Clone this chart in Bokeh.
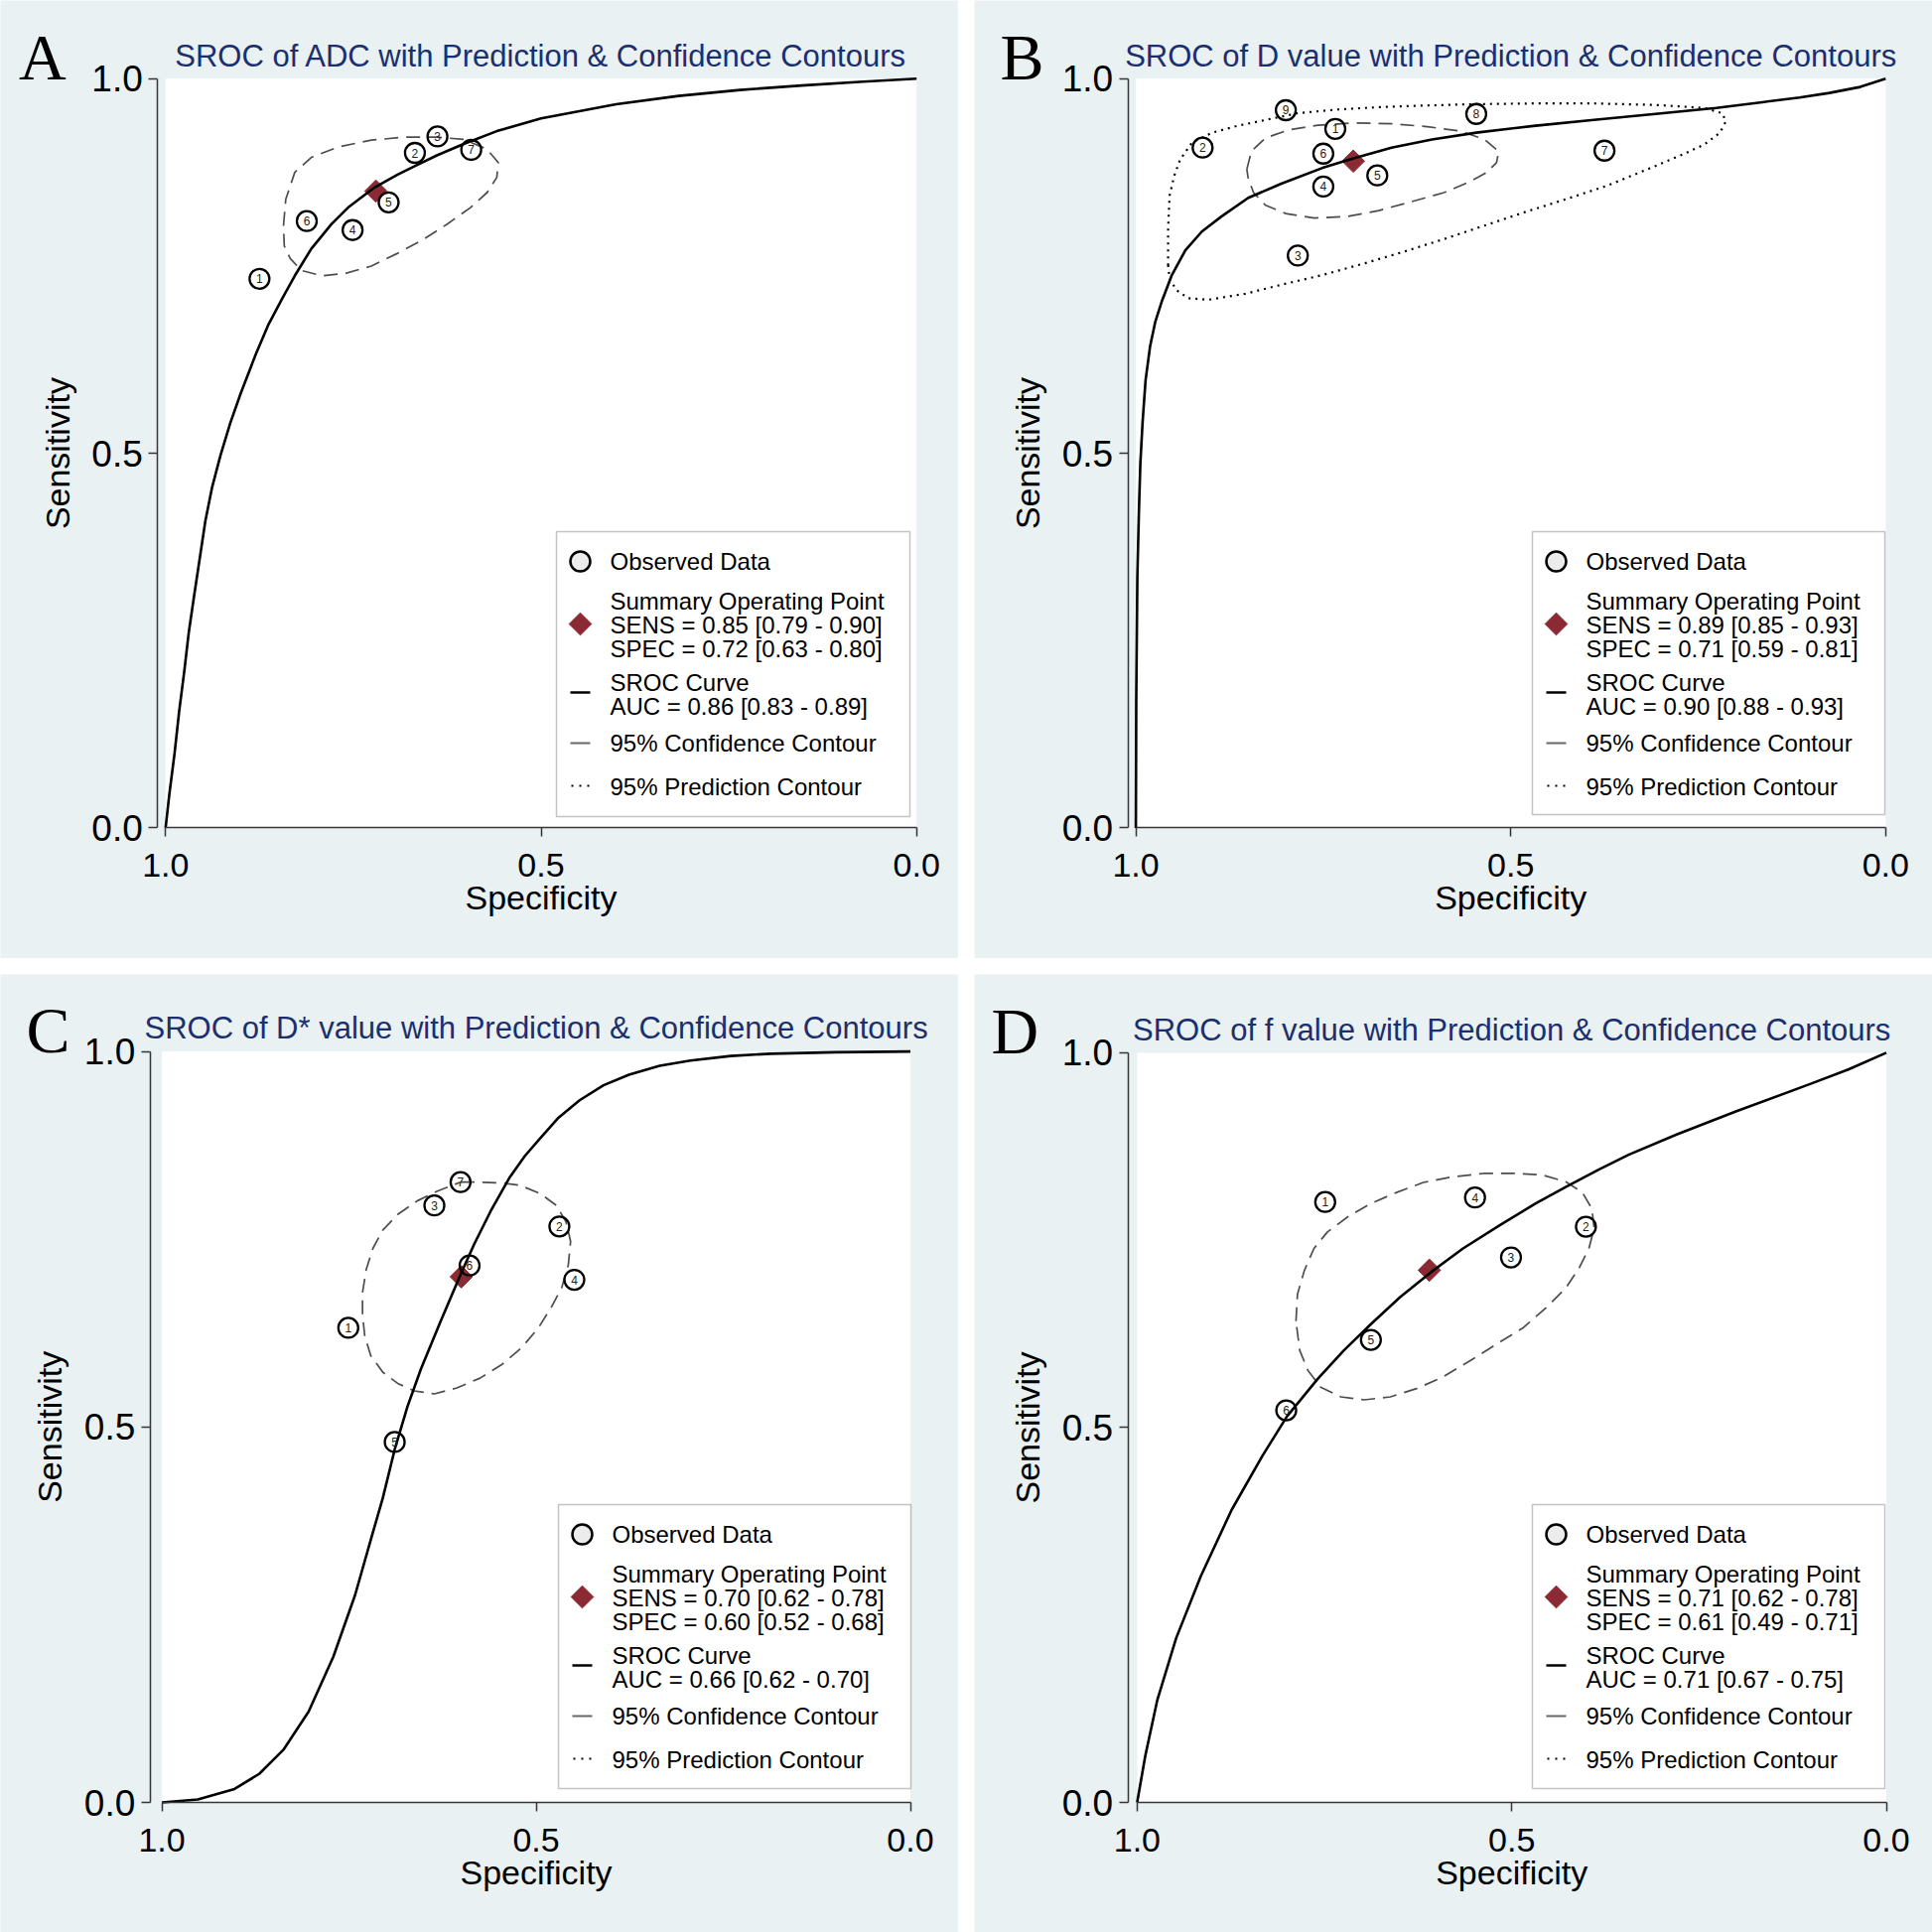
import numpy as np
from bokeh.plotting import figure
from bokeh.models import Range1d, BoxAnnotation, FixedTicker, NumeralTickFormatter, GridBox
from bokeh.core.properties import value
from bokeh.embed import file_html
from bokeh.resources import INLINE

# ---------------- data ----------------
# Panel A : ADC
A_obs_label = ["1", "2", "3", "4", "5", "6", "7"]
A_obs_spec = [0.875, 0.668, 0.638, 0.751, 0.703, 0.812, 0.593]
A_obs_sens = [0.733, 0.901, 0.923, 0.798, 0.835, 0.810, 0.905]
A_curve_spec = [1.0, 0.995, 0.988, 0.982, 0.975, 0.969, 0.962, 0.953, 0.947, 0.938, 0.927, 0.914, 0.900, 0.880,
                0.863, 0.845, 0.828, 0.806, 0.779, 0.757, 0.723, 0.691, 0.667, 0.638, 0.603, 0.559, 0.500, 0.400,
                0.317, 0.235, 0.153, 0.071, 0.0]
A_curve_sens = [0.0, 0.045, 0.10, 0.155, 0.21, 0.262, 0.31, 0.37, 0.41, 0.455, 0.497, 0.54, 0.58, 0.632,
                0.672, 0.706, 0.737, 0.773, 0.806, 0.828, 0.854, 0.872, 0.884, 0.898, 0.913, 0.930, 0.947, 0.966,
                0.977, 0.985, 0.991, 0.996, 1.0]
A_conf_spec = [0.843, 0.840, 0.828, 0.806, 0.770, 0.726, 0.682, 0.638, 0.603, 0.572, 0.557, 0.559, 0.572, 0.594,
               0.625, 0.656, 0.691, 0.726, 0.761, 0.792, 0.819, 0.834, 0.842]
A_conf_sens = [0.804, 0.839, 0.875, 0.895, 0.909, 0.918, 0.922, 0.922, 0.919, 0.906, 0.888, 0.868, 0.848, 0.828,
               0.806, 0.786, 0.767, 0.750, 0.740, 0.737, 0.744, 0.760, 0.777]
A_pred_spec = []
A_pred_sens = []

# Panel B : D value
B_obs_label = ["1", "2", "3", "4", "5", "6", "7", "8", "9"]
B_obs_spec = [0.734, 0.911, 0.784, 0.750, 0.678, 0.750, 0.375, 0.546, 0.800]
B_obs_sens = [0.933, 0.908, 0.764, 0.856, 0.871, 0.900, 0.904, 0.953, 0.958]
B_curve_spec = [1.0, 0.9995, 0.998, 0.996, 0.994, 0.991, 0.987, 0.981, 0.974, 0.965, 0.952, 0.934, 0.912, 0.886,
                0.850, 0.806, 0.751, 0.712, 0.659, 0.605, 0.546, 0.470, 0.389, 0.307, 0.226, 0.162, 0.115, 0.075,
                0.034, 0.0]
B_curve_sens = [0.0, 0.17, 0.336, 0.42, 0.487, 0.542, 0.598, 0.643, 0.676, 0.704, 0.738, 0.771, 0.796, 0.816,
                0.841, 0.860, 0.881, 0.893, 0.908, 0.919, 0.928, 0.937, 0.945, 0.953, 0.961, 0.969, 0.975, 0.981,
                0.989, 1.0]
B_conf_spec = [0.852, 0.846, 0.827, 0.795, 0.757, 0.708, 0.659, 0.611, 0.567, 0.535, 0.516, 0.519, 0.532, 0.556,
               0.589, 0.632, 0.676, 0.719, 0.762, 0.800, 0.827, 0.843, 0.850]
B_conf_sens = [0.879, 0.903, 0.921, 0.932, 0.938, 0.941, 0.940, 0.936, 0.930, 0.919, 0.903, 0.888, 0.875, 0.862,
               0.848, 0.836, 0.824, 0.816, 0.814, 0.820, 0.831, 0.848, 0.866]
B_pred_spec = [0.957, 0.957, 0.955, 0.949, 0.941, 0.925, 0.898, 0.865, 0.827, 0.784, 0.730, 0.676, 0.621, 0.551,
               0.470, 0.389, 0.307, 0.242, 0.218, 0.213, 0.221, 0.242, 0.275, 0.318, 0.372, 0.427, 0.481, 0.535,
               0.589, 0.643, 0.697, 0.751, 0.806, 0.854, 0.903, 0.930, 0.946, 0.955]
B_pred_sens = [0.751, 0.800, 0.844, 0.870, 0.892, 0.915, 0.928, 0.937, 0.945, 0.954, 0.959, 0.962, 0.964, 0.966,
               0.967, 0.967, 0.965, 0.961, 0.954, 0.943, 0.928, 0.912, 0.897, 0.879, 0.857, 0.839, 0.822, 0.804,
               0.786, 0.769, 0.753, 0.738, 0.725, 0.713, 0.705, 0.707, 0.718, 0.733]

# Panel C : D* value
C_obs_label = ["1", "2", "3", "4", "5", "6", "7"]
C_obs_spec = [0.751, 0.469, 0.636, 0.449, 0.689, 0.589, 0.601]
C_obs_sens = [0.632, 0.767, 0.795, 0.696, 0.480, 0.715, 0.826]
C_curve_spec = [1.0, 0.952, 0.903, 0.870, 0.837, 0.804, 0.771, 0.742, 0.718, 0.705, 0.689, 0.672, 0.654, 0.628,
                0.601, 0.583, 0.561, 0.535, 0.515, 0.495, 0.470, 0.442, 0.410, 0.376, 0.335, 0.294, 0.240, 0.187,
                0.100, 0.0]
C_curve_sens = [0.0, 0.004, 0.018, 0.038, 0.071, 0.121, 0.194, 0.276, 0.360, 0.405, 0.470, 0.527, 0.577, 0.640,
                0.703, 0.743, 0.787, 0.833, 0.861, 0.884, 0.912, 0.935, 0.955, 0.969, 0.981, 0.988, 0.994, 0.997,
                0.999, 1.0]
C_conf_spec = [0.601, 0.575, 0.548, 0.522, 0.495, 0.473, 0.460, 0.454, 0.457, 0.466, 0.480, 0.497, 0.519, 0.546,
               0.575, 0.606, 0.636, 0.663, 0.685, 0.705, 0.721, 0.729, 0.732, 0.732, 0.727, 0.718, 0.705, 0.685,
               0.659, 0.632]
C_conf_sens = [0.826, 0.826, 0.825, 0.822, 0.811, 0.795, 0.773, 0.747, 0.716, 0.685, 0.659, 0.632, 0.606, 0.583,
               0.565, 0.552, 0.544, 0.548, 0.558, 0.573, 0.595, 0.621, 0.650, 0.679, 0.710, 0.738, 0.762, 0.783,
               0.801, 0.814]
C_pred_spec = []
C_pred_sens = []

# Panel D : f value
D_obs_label = ["1", "2", "3", "4", "5", "6"]
D_obs_spec = [0.749, 0.401, 0.501, 0.549, 0.688, 0.801]
D_obs_sens = [0.801, 0.768, 0.727, 0.807, 0.617, 0.523]
D_curve_spec = [1.0, 0.989, 0.973, 0.948, 0.915, 0.874, 0.833, 0.800, 0.759, 0.724, 0.688, 0.649, 0.607, 0.565,
                0.516, 0.468, 0.428, 0.384, 0.344, 0.28, 0.20, 0.10, 0.05, 0.0]
D_curve_sens = [0.0, 0.063, 0.137, 0.219, 0.302, 0.390, 0.462, 0.515, 0.565, 0.603, 0.638, 0.674, 0.708, 0.739,
                0.770, 0.799, 0.821, 0.844, 0.864, 0.891, 0.922, 0.959, 0.978, 1.0]
D_conf_spec = [0.788, 0.786, 0.777, 0.764, 0.746, 0.719, 0.688, 0.653, 0.618, 0.582, 0.538, 0.494, 0.459, 0.428,
               0.406, 0.393, 0.390, 0.397, 0.410, 0.428, 0.454, 0.485, 0.521, 0.556, 0.591, 0.627, 0.662, 0.697,
               0.728, 0.755, 0.772, 0.783]
D_conf_sens = [0.642, 0.678, 0.709, 0.739, 0.761, 0.781, 0.799, 0.814, 0.827, 0.834, 0.839, 0.839, 0.837, 0.828,
               0.814, 0.792, 0.766, 0.739, 0.713, 0.686, 0.660, 0.633, 0.611, 0.589, 0.568, 0.552, 0.541, 0.537,
               0.541, 0.554, 0.576, 0.603]
D_pred_spec = []
D_pred_sens = []

# Summary operating points and AUC (A, B, C, D)
panel_letters = ["A", "B", "C", "D"]
panel_titles = ["SROC of ADC with Prediction & Confidence Contours",
                "SROC of D value with Prediction & Confidence Contours",
                "SROC of D* value with Prediction & Confidence Contours",
                "SROC of f value with Prediction & Confidence Contours"]
sum_sens = [0.85, 0.89, 0.70, 0.71]
sum_sens_lo = [0.79, 0.85, 0.62, 0.62]
sum_sens_hi = [0.90, 0.93, 0.78, 0.78]
sum_spec = [0.72, 0.71, 0.60, 0.61]
sum_spec_lo = [0.63, 0.59, 0.52, 0.49]
sum_spec_hi = [0.80, 0.81, 0.68, 0.71]
auc = [0.86, 0.90, 0.66, 0.71]
auc_lo = [0.83, 0.88, 0.62, 0.67]
auc_hi = [0.89, 0.93, 0.70, 0.75]
tick_values = [0.0, 0.5, 1.0]

# ---------------- styling / layout ----------------
BG = "#E9F1F2"
NAVY = "#1B2F6E"
RED = "#8B2A33"
AXC = "#363636"
FONT = "Liberation Sans"
SERIF = "Liberation Serif"
PANEL = 965
GAP = 16

ORIGINS = [(0, 0), (PANEL + GAP, 0), (0, PANEL + GAP), (PANEL + GAP, PANEL + GAP)]
# page pixels: (y-axis line x, x of spec=1, px per unit x, y of sens=1, px per unit y)
GEOS = [(158.3, 166.3, 756.4, 78.8, 754.6),
        (1135.6, 1143.6, 755.2, 78.8, 754.6),
        (150.8, 162.6, 753.9, 1058.6, 756.4),
        (1135.6, 1144.9, 754.6, 1059.9, 755.1)]
LETTER_X = [18.6, 1007.0, 26.0, 998.0]
LEGEND_BOX = [(560, 535, 916, 822), (1543, 535, 1898, 820), (562, 1515, 917, 1801), (1543, 1515, 1898, 1801)]


def make_panel(i, obs_lab, obs_spec, obs_sens, curve_spec, curve_sens, conf_spec, conf_sens, pred_spec, pred_sens):
    ox, oy = ORIGINS[i]
    axis_px, x1_px, kx, y1_px, ky = GEOS[i]
    y0_px = y1_px + ky

    def dx(px):
        return 1 - (px - x1_px) / kx

    def dy(py):
        return 1 - (py - y1_px) / ky

    p = figure(width=PANEL, height=PANEL, output_backend="svg", toolbar_location=None, title_location=None,
               x_range=Range1d(dx(ox), dx(ox + PANEL)), y_range=Range1d(dy(oy + PANEL), dy(oy)),
               min_border=0, min_border_left=0, min_border_right=0, min_border_top=0, min_border_bottom=0,
               border_fill_color=BG, background_fill_color=BG, outline_line_color=None)
    p.grid.visible = False

    # white plot region
    p.add_layout(BoxAnnotation(left=1.0, right=0.0, bottom=0.0, top=1.0, fill_color="white", fill_alpha=1.0,
                               line_color=None, level="underlay"))

    for ax in (p.xaxis[0], p.yaxis[0]):
        ax.ticker = FixedTicker(ticks=tick_values)
        ax.formatter = NumeralTickFormatter(format="0.0")
        ax.bounds = (0, 1)
        ax.major_label_text_font = FONT
        ax.major_label_text_color = "black"
        ax.axis_line_color = AXC
        ax.axis_line_width = 1.5
        ax.major_tick_line_color = AXC
        ax.major_tick_line_width = 1.5
        ax.major_tick_in = 0
        ax.major_tick_out = 9
        ax.minor_tick_in = 0
        ax.minor_tick_out = 0
    p.xaxis.fixed_location = 0.0
    p.yaxis.fixed_location = dx(axis_px)
    p.xaxis.major_label_text_font_size = "34px"
    p.yaxis.major_label_text_font_size = "37px"
    p.xaxis.major_label_standoff = 17
    p.yaxis.major_label_standoff = 6

    # axis titles (vertical centre positions)
    p.text([0.5], [dy(y0_px + 70)], text=["Specificity"], text_align="center", text_baseline="middle",
           text_font=value(FONT), text_font_size="34px", text_color="black")
    p.text([dx(axis_px - 101)], [0.5], text=["Sensitivity"], angle=np.pi / 2, text_align="center",
           text_baseline="middle", text_font=value(FONT), text_font_size="34px", text_color="black")

    # summary point, contours, curve, observed data
    p.scatter([sum_spec[i]], [sum_sens[i]], marker="square", size=16, angle=np.pi / 4,
              fill_color=RED, line_color=RED)
    if pred_spec:
        p.line(list(pred_spec) + [pred_spec[0]], list(pred_sens) + [pred_sens[0]],
               line_color="black", line_width=2.2, line_dash="2 5")
    p.line(list(conf_spec) + [conf_spec[0]], list(conf_sens) + [conf_sens[0]],
           line_color="#4d4d4d", line_width=1.7, line_dash="14 8")
    p.line(curve_spec, curve_sens, line_color="black", line_width=2.6)
    p.scatter(obs_spec, obs_sens, marker="circle", size=20, fill_color=None, line_color="black", line_width=2.3)
    p.text(obs_spec, obs_sens, text=obs_lab, text_align="center", text_baseline="middle",
           text_font=value(FONT), text_font_size="12px", text_color="#222222")

    # legend
    bx0, by0, bx1, by1 = LEGEND_BOX[i]
    p.add_layout(BoxAnnotation(left=dx(bx0), right=dx(bx1), top=dy(by0), bottom=dy(by1),
                               fill_color="white", fill_alpha=1.0, line_color="#3a3a3a", line_width=1.5,
                               level="underlay"))
    sx = bx0 + 24
    p.scatter([dx(sx)], [dy(by0 + 30)], marker="circle", size=20, fill_color="#ECECEC",
              line_color="black", line_width=2.5)
    p.scatter([dx(sx)], [dy(by0 + 93)], marker="square", size=16, angle=np.pi / 4,
              fill_color=RED, line_color=RED)
    p.segment([dx(sx - 10)], [dy(by0 + 162)], [dx(sx + 10)], [dy(by0 + 162)], line_color="black", line_width=2.5)
    p.segment([dx(sx - 10)], [dy(by0 + 213)], [dx(sx + 10)], [dy(by0 + 213)], line_color="#666666", line_width=2)
    p.segment([dx(sx - 9)], [dy(by0 + 256)], [dx(sx + 10)], [dy(by0 + 256)], line_color="black", line_width=2,
              line_dash="2 6")
    lines = ["Observed Data",
             "Summary Operating Point",
             "SENS = %.2f [%.2f - %.2f]" % (sum_sens[i], sum_sens_lo[i], sum_sens_hi[i]),
             "SPEC = %.2f [%.2f - %.2f]" % (sum_spec[i], sum_spec_lo[i], sum_spec_hi[i]),
             "SROC Curve",
             "AUC = %.2f [%.2f - %.2f]" % (auc[i], auc_lo[i], auc_hi[i]),
             "95% Confidence Contour",
             "95% Prediction Contour"]
    offs = [30, 70, 94, 118, 152, 176, 213, 257]
    p.text([dx(bx0 + 54)] * len(lines), [dy(by0 + o) for o in offs], text=lines,
           text_align="left", text_baseline="middle", text_font=value(FONT), text_font_size="24px",
           text_color="black")

    # title and panel letter (vertical centre positions)
    p.text([0.5], [dy(y1_px - 23.3)], text=[panel_titles[i]], text_align="center", text_baseline="middle",
           text_font=value(FONT), text_font_size="31px", text_color=NAVY)
    p.text([dx(LETTER_X[i])], [dy(y1_px - 21.8)], text=[panel_letters[i]], text_align="left",
           text_baseline="middle", text_font=value(SERIF), text_font_size="66px", text_color="black")
    return p


pA = make_panel(0, A_obs_label, A_obs_spec, A_obs_sens, A_curve_spec, A_curve_sens, A_conf_spec, A_conf_sens,
                A_pred_spec, A_pred_sens)
pB = make_panel(1, B_obs_label, B_obs_spec, B_obs_sens, B_curve_spec, B_curve_sens, B_conf_spec, B_conf_sens,
                B_pred_spec, B_pred_sens)
pC = make_panel(2, C_obs_label, C_obs_spec, C_obs_sens, C_curve_spec, C_curve_sens, C_conf_spec, C_conf_sens,
                C_pred_spec, C_pred_sens)
pD = make_panel(3, D_obs_label, D_obs_spec, D_obs_sens, D_curve_spec, D_curve_sens, D_conf_spec, D_conf_sens,
                D_pred_spec, D_pred_sens)

grid = GridBox(children=[(pA, 0, 0), (pB, 0, 1), (pC, 1, 0), (pD, 1, 1)], spacing=GAP)

with open("out.html", "w") as f:
    f.write(file_html(grid, INLINE))
